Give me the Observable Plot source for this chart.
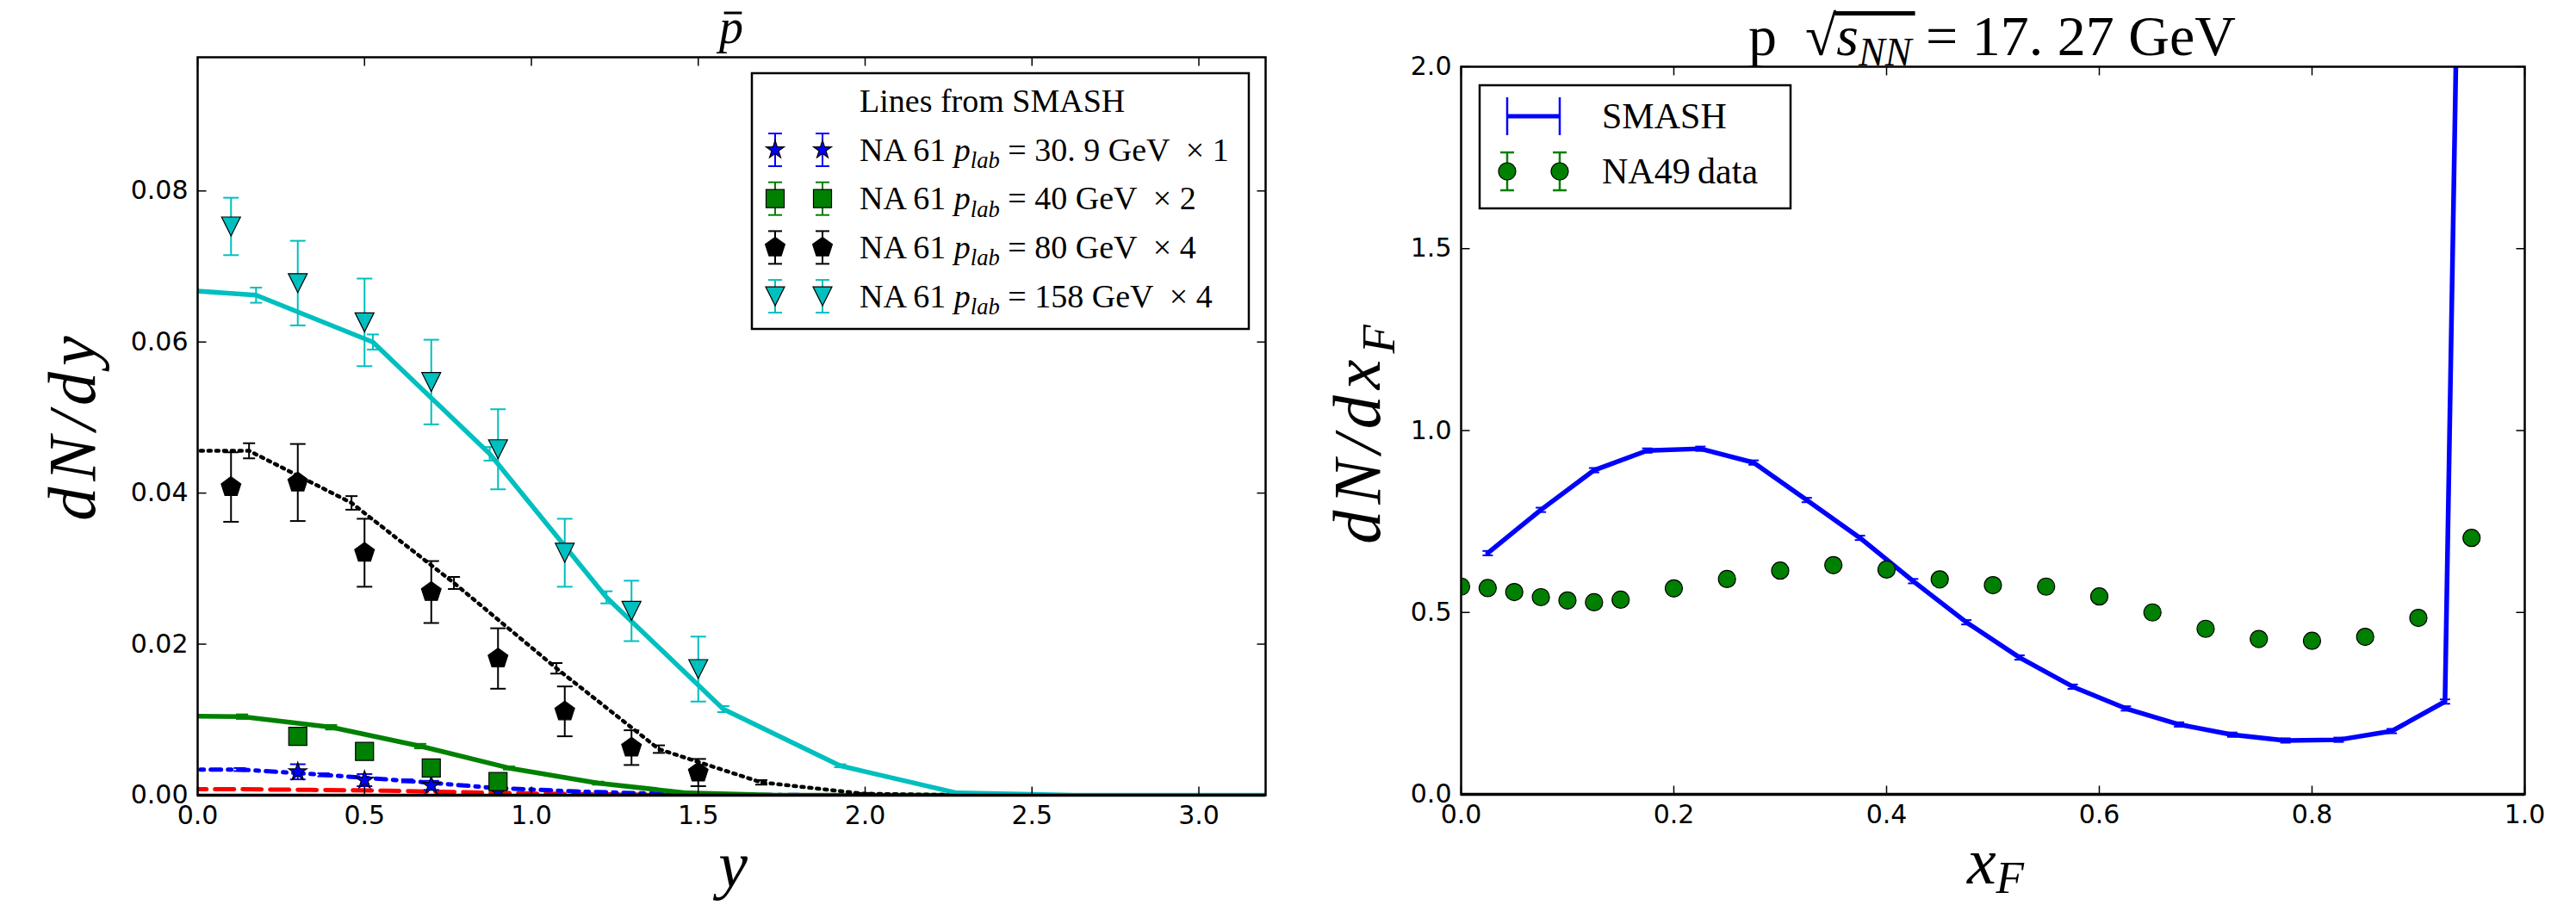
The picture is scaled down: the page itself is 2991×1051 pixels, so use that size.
<!DOCTYPE html>
<html>
<head>
<meta charset="utf-8">
<script src="https://cdn.jsdelivr.net/npm/d3@7"></script>
<script src="https://cdn.jsdelivr.net/npm/@observablehq/plot@0.6"></script>
<style>
  html, body { margin: 0; padding: 0; background: #fff; }
  #root { position: relative; width: 2991px; height: 1051px; overflow: hidden; background: #fff; }
  #root > svg { position: absolute; top: 0; }
</style>
</head>
<body>
<div id="root"></div>
<script>
// ---------------- data ----------------
const rapTicks = [0, 0.5, 1, 1.5, 2, 2.5, 3];
const dndyTicks = [0, 0.02, 0.04, 0.06, 0.08];
const xfTicks = [0, 0.2, 0.4, 0.6, 0.8, 1];
const dndxTicks = [0, 0.5, 1, 1.5, 2];

const beamLabels = ["30. 9", "40", "80", "158"];
const scaleFactors = [1, 2, 4, 4];

// NA61 data points (rapidity)
const na61Rap = [0.1, 0.3, 0.5, 0.7, 0.9, 1.1, 1.3, 1.5];
const na61_158 = [0.0753, 0.0678, 0.0626, 0.0547, 0.0458, 0.0321, 0.0244, 0.0167];
const na61_158Err = [0.0038, 0.0056, 0.0058, 0.0056, 0.0053, 0.0045, 0.0040, 0.0043];
const na61_80 = [0.0408, 0.0414, 0.0321, 0.0269, 0.0181, 0.0111, 0.0063, 0.0030];
const na61_80Err = [0.0046, 0.0051, 0.0045, 0.0041, 0.0040, 0.0033, 0.0023, 0.0018];
const na61RapLow = [0.3, 0.5, 0.7, 0.9];
const na61_40 = [0.0078, 0.0058, 0.0036, 0.0018];
const na61_40Err = [0.0006, 0.0006, 0.0005, 0.0005];
const na61_31 = [0.0031, 0.0020, 0.0013, 0.0005];
const na61_31Err = [0.0010, 0.0008, 0.0006, 0.0005];

// SMASH lines (rapidity)
const smashRap158 = [-0.175, 0.175, 0.525, 0.875, 1.225, 1.575, 1.925, 2.275, 2.625, 2.975, 3.325];
const smash158 = [0.0673, 0.0662, 0.0600, 0.0452, 0.0262, 0.0114, 0.0039, 0.0003, 0, 0, 0];
const smash158Err = [0.0010, 0.0010, 0.0010, 0.0009, 0.0008, 0.0004, 0.0002, 0, 0, 0, 0];
const smashRap80 = [-0.154, 0.154, 0.461, 0.768, 1.075, 1.382, 1.689, 1.996, 2.303, 2.610, 2.917, 3.224];
const smash80 = [0.0456, 0.0456, 0.0387, 0.0281, 0.0168, 0.0061, 0.0017, 0.0002, 0, 0, 0, 0];
const smash80Err = [0.0010, 0.0010, 0.0009, 0.0008, 0.0007, 0.0005, 0.0003, 0.0001, 0, 0, 0, 0];
const smashRap40 = [-0.133, 0.133, 0.4, 0.667, 0.933, 1.2, 1.467, 1.733, 2.0, 2.267];
const smash40 = [0.0105, 0.0104, 0.0090, 0.0065, 0.0036, 0.0016, 0.0003, 0, 0, 0];
const smash40Err = [0.0003, 0.0003, 0.0003, 0.0003, 0.0002, 0.0002, 0.0001, 0, 0, 0];
const smashRap31 = [-0.126, 0.126, 0.377, 0.628, 0.879, 1.130, 1.381, 1.632, 1.883];
const smash31 = [0.0034, 0.0034, 0.0027, 0.0019, 0.0010, 0.0005, 0.0002, 0.00005, 0];
const smash31Err = [0.0002, 0.0002, 0.0002, 0.0002, 0.0001, 0.0001, 0.00005, 0, 0];
const smashRap20 = [-0.113, 0.113, 0.339, 0.565, 0.791, 1.017, 1.243, 1.469, 1.695];
const smash20 = [0.0008, 0.0008, 0.0007, 0.0006, 0.0004, 0.0002, 0.0001, 0.00003, 0];

// right panel: x_F
const smashXF = [0.025, 0.075, 0.125, 0.175, 0.225, 0.275, 0.325, 0.375, 0.425, 0.475,
                 0.525, 0.575, 0.625, 0.675, 0.725, 0.775, 0.825, 0.875, 0.925, 0.975];
const smashDNdxF = [0.663, 0.782, 0.891, 0.945, 0.950, 0.912, 0.809, 0.705, 0.586, 0.473,
                    0.376, 0.296, 0.236, 0.192, 0.164, 0.148, 0.150, 0.174, 0.255, 8.8];
const smashDNdxFErr = smashXF.map(() => 0.006);
const na49XF = [0, 0.025, 0.05, 0.075, 0.1, 0.125, 0.15, 0.2, 0.25, 0.3, 0.35, 0.4,
                0.45, 0.5, 0.55, 0.6, 0.65, 0.7, 0.75, 0.8, 0.85, 0.9, 0.95];
const na49DNdxF = [0.571, 0.567, 0.556, 0.542, 0.533, 0.528, 0.535, 0.566, 0.592, 0.615, 0.630, 0.618,
                   0.591, 0.575, 0.571, 0.544, 0.500, 0.455, 0.427, 0.422, 0.433, 0.485, 0.705];

// ---------------- helpers ----------------
const C = {blue: "#0000FF", green: "#008000", black: "#000000", cyan: "#00BFBF", red: "#FF0000"};
const serif = "'Liberation Serif', 'Times New Roman', serif";
const rows = (xs, vs, es) => xs.map((x, i) => ({x, v: vs[i], e: es ? es[i] : 0}));

function sym(fn) { return {draw(ctx, size) { fn(ctx, Math.sqrt(size / Math.PI)); }}; }
const capH = sym((c, r) => { c.moveTo(-r, 0); c.lineTo(r, 0); });
const tickUp = sym((c, r) => { c.moveTo(0, 0); c.lineTo(0, -r); });
const tickDown = sym((c, r) => { c.moveTo(0, 0); c.lineTo(0, r); });
const tickRight = sym((c, r) => { c.moveTo(0, 0); c.lineTo(r, 0); });
const tickLeft = sym((c, r) => { c.moveTo(0, 0); c.lineTo(-r, 0); });
const pentagon = sym((c, r) => {
  for (let i = 0; i < 5; i++) {
    const a = -Math.PI / 2 + i * 2 * Math.PI / 5;
    const x = r * Math.cos(a), y = r * Math.sin(a);
    if (i) c.lineTo(x, y); else c.moveTo(x, y);
  }
  c.closePath();
});
const star = sym((c, r) => {
  for (let i = 0; i < 10; i++) {
    const a = -Math.PI / 2 + i * Math.PI / 5;
    const rr = i % 2 ? r * 0.382 : r;
    const x = rr * Math.cos(a), y = rr * Math.sin(a);
    if (i) c.lineTo(x, y); else c.moveTo(x, y);
  }
  c.closePath();
});
const square = sym((c, r) => { c.moveTo(-r, -r); c.lineTo(r, -r); c.lineTo(r, r); c.lineTo(-r, r); c.closePath(); });
const triDown = sym((c, r) => { c.moveTo(0, r); c.lineTo(-r, -r); c.lineTo(r, -r); c.closePath(); });

function errorBars(data, color, capR, sw) {
  const d = data.filter(p => p.e > 0);
  return [
    Plot.ruleX(d, {x: "x", y1: p => p.v - p.e, y2: p => p.v + p.e, stroke: color, strokeWidth: sw, clip: true}),
    Plot.dot(d, {x: "x", y: p => p.v - p.e, symbol: capH, r: capR, stroke: color, strokeWidth: sw, fill: "none", clip: true}),
    Plot.dot(d, {x: "x", y: p => p.v + p.e, symbol: capH, r: capR, stroke: color, strokeWidth: sw, fill: "none", clip: true})
  ];
}
function smashLine(data, color, sw, dash) {
  return [
    Plot.line(data, {x: "x", y: "v", stroke: color, strokeWidth: sw, strokeDasharray: dash, clip: true}),
    ...errorBars(data, color, 7, 2)
  ];
}
function markers(data, color, symbol, r) {
  return [
    ...errorBars(data, color, 9, 2),
    Plot.dot(data, {x: "x", y: "v", symbol, r, fill: color, stroke: "black", strokeWidth: 1.2, clip: true})
  ];
}
function inwardTicks(xt, yt, xd, yd) {
  const o = {r: 10, stroke: "black", strokeWidth: 1.5, fill: "none"};
  return [
    Plot.dot(xt, {x: d => d, y: () => yd[0], symbol: tickUp, ...o}),
    Plot.dot(xt, {x: d => d, y: () => yd[1], symbol: tickDown, ...o}),
    Plot.dot(yt, {x: () => xd[0], y: d => d, symbol: tickRight, ...o}),
    Plot.dot(yt, {x: () => xd[1], y: d => d, symbol: tickLeft, ...o})
  ];
}
const plotStyle = {fontFamily: "'DejaVu Sans', sans-serif", fontSize: "30px", color: "black", background: "transparent", overflow: "visible"};

// ---------------- left panel ----------------
const leftX = [0, 3.2], leftY = [0, 0.0977];
const left = Plot.plot({
  width: 1480, height: 1051,
  marginLeft: 229, marginRight: 11, marginTop: 66, marginBottom: 128,
  x: {domain: leftX},
  y: {domain: leftY},
  style: plotStyle,
  marks: [
    ...smashLine(rows(smashRap20, smash20), C.red, 5, "22,10"),
    ...smashLine(rows(smashRap31, smash31, smash31Err), C.blue, 5, "12,8,4,8"),
    ...smashLine(rows(smashRap40, smash40, smash40Err), C.green, 5.5),
    ...smashLine(rows(smashRap80, smash80, smash80Err), C.black, 4.5, "3,6"),
    ...smashLine(rows(smashRap158, smash158, smash158Err), C.cyan, 5.5),
    ...markers(rows(na61RapLow, na61_31, na61_31Err), C.blue, star, 11),
    ...markers(rows(na61RapLow, na61_40, na61_40Err), C.green, square, 10.5),
    ...markers(rows(na61Rap, na61_80, na61_80Err), C.black, pentagon, 12),
    ...markers(rows(na61Rap, na61_158, na61_158Err), C.cyan, triDown, 11),
    Plot.ruleY([0], {stroke: "black", strokeWidth: 3.5}),
    Plot.frame({stroke: "black", strokeWidth: 2.5}),
    ...inwardTicks(rapTicks, dndyTicks, leftX, leftY),
    Plot.axisX({ticks: rapTicks, tickSize: 0, tickPadding: 12, tickFormat: d3.format(".1f"), label: null}),
    Plot.axisY({ticks: dndyTicks, tickSize: 0, tickPadding: 11, tickFormat: d3.format(".2f"), label: null})
  ]
});
left.style.left = "0px";

// ---------------- right panel ----------------
const rightX = [0, 1], rightY = [0, 2];
const right = Plot.plot({
  width: 1511, height: 1051,
  marginLeft: 216, marginRight: 60, marginTop: 77, marginBottom: 129,
  x: {domain: rightX},
  y: {domain: rightY},
  style: plotStyle,
  marks: [
    Plot.line(rows(smashXF, smashDNdxF), {x: "x", y: "v", stroke: C.blue, strokeWidth: 5.5, clip: true}),
    ...errorBars(rows(smashXF, smashDNdxF, smashDNdxFErr), C.blue, 6, 2),
    Plot.dot(rows(na49XF, na49DNdxF), {x: "x", y: "v", r: 10, fill: C.green, stroke: "black", strokeWidth: 1.2, clip: true}),
    Plot.ruleY([0], {stroke: "black", strokeWidth: 3.5}),
    Plot.frame({stroke: "black", strokeWidth: 2.5}),
    ...inwardTicks(xfTicks, dndxTicks, rightX, rightY),
    Plot.axisX({ticks: xfTicks, tickSize: 0, tickPadding: 12, tickFormat: d3.format(".1f"), label: null}),
    Plot.axisY({ticks: dndxTicks, tickSize: 0, tickPadding: 11, tickFormat: d3.format(".1f"), label: null})
  ]
});
right.style.left = "1480px";

const root = document.getElementById("root");
root.appendChild(left);
root.appendChild(right);

// ---------------- overlay: titles, labels, legends ----------------
const ov = d3.select(root).append("svg")
  .attr("width", 2991).attr("height", 1051)
  .style("left", "0px").style("top", "0px").style("pointer-events", "none");

function richText(parent, x, y, parts, fs, opts = {}) {
  const t = parent.append("text")
    .attr("x", x).attr("y", y)
    .attr("font-family", serif).attr("font-size", fs)
    .attr("text-anchor", opts.anchor || "start")
    .attr("fill", "black")
    .style("white-space", "pre");
  if (opts.transform) t.attr("transform", opts.transform);
  if (opts.spacing) t.attr("letter-spacing", opts.spacing);
  const subShift = opts.subShift != null ? opts.subShift : fs * 0.22;
  let shifted = 0;
  parts.forEach(p => {
    const ts = t.append("tspan").text(p.t);
    if (p.i) ts.attr("font-style", "italic");
    if (p.sub) {
      ts.attr("font-size", fs * 0.7);
      ts.attr("dy", subShift - shifted); shifted = subShift;
    } else if (shifted) {
      ts.attr("dy", -shifted); shifted = 0;
    }
  });
  return t;
}

// left title: p-bar
const pbar = richText(ov, 849, 50, [{t: "p", i: true}], 56, {anchor: "middle"});
{
  const bb = pbar.node().getBBox();
  ov.append("line")
    .attr("x1", bb.x + bb.width * 0.3).attr("x2", bb.x + bb.width * 0.95)
    .attr("y1", 15).attr("y2", 15).attr("stroke", "black").attr("stroke-width", 3);
}

// right title
const rtitle = richText(ov, 2313, 64, [
  {t: "p  \u221A"}, {t: "s", i: true}, {t: "NN", i: true, sub: true}, {t: " = 17. 27 GeV"}
], 66, {anchor: "middle", subShift: 12});
{
  const n = rtitle.node();
  const x0 = n.getEndPositionOfChar(3).x;
  const x1 = n.getEndPositionOfChar(6).x + 4;
  ov.append("rect").attr("x", x0 - 2).attr("y", 13).attr("width", x1 - x0 + 2).attr("height", 5).attr("fill", "black");
}

// axis labels
richText(ov, 0, 0, [{t: "dN/dy", i: true}], 78, {anchor: "middle", transform: "translate(110,494) rotate(-90)", spacing: 7});
richText(ov, 0, 0, [{t: "dN/dx", i: true}, {t: "F", i: true, sub: true}], 78, {anchor: "middle", transform: "translate(1602,501) rotate(-90)", spacing: 7});
richText(ov, 851, 1030, [{t: "y", i: true}], 76, {anchor: "middle"});
richText(ov, 2317, 1026, [{t: "x", i: true}, {t: "F", i: true, sub: true}], 76, {anchor: "middle", subShift: 11});

// left legend
const legendSymbols = [star, square, pentagon, triDown];
const legendColors = [C.blue, C.green, C.black, C.cyan];
const legendR = [11, 10.5, 12, 11];
ov.append("rect").attr("x", 873).attr("y", 85).attr("width", 577).attr("height", 297)
  .attr("fill", "white").attr("stroke", "black").attr("stroke-width", 2.5);
richText(ov, 998, 130, [{t: "Lines from SMASH"}], 38);
beamLabels.forEach((lab, i) => {
  const cy = 174 + i * 56.7;
  const col = legendColors[i];
  [900, 955].forEach(mx => {
    ov.append("line").attr("x1", mx).attr("x2", mx).attr("y1", cy - 19).attr("y2", cy + 19).attr("stroke", col).attr("stroke-width", 2);
    [cy - 19, cy + 19].forEach(yy => ov.append("line").attr("x1", mx - 8).attr("x2", mx + 8).attr("y1", yy).attr("y2", yy).attr("stroke", col).attr("stroke-width", 2));
    ov.append("path").attr("d", d3.symbol(legendSymbols[i], Math.PI * legendR[i] ** 2)())
      .attr("transform", `translate(${mx},${cy})`).attr("fill", col).attr("stroke", "black").attr("stroke-width", 1.2);
  });
  richText(ov, 998, cy + 12.5, [
    {t: "NA 61 "}, {t: "p", i: true}, {t: "lab", i: true, sub: true},
    {t: ` = ${lab} GeV  \u00D7 ${scaleFactors[i]}`}
  ], 38);
});

// right legend
ov.append("rect").attr("x", 1718).attr("y", 99).attr("width", 361).attr("height", 143)
  .attr("fill", "white").attr("stroke", "black").attr("stroke-width", 2.5);
ov.append("line").attr("x1", 1750).attr("x2", 1811).attr("y1", 135).attr("y2", 135).attr("stroke", C.blue).attr("stroke-width", 5);
[1750, 1811].forEach(mx => {
  ov.append("line").attr("x1", mx).attr("x2", mx).attr("y1", 113).attr("y2", 157).attr("stroke", C.blue).attr("stroke-width", 2.5);
  ov.append("line").attr("x1", mx).attr("x2", mx).attr("y1", 177).attr("y2", 221).attr("stroke", C.green).attr("stroke-width", 2.5);
  [177, 221].forEach(yy => ov.append("line").attr("x1", mx - 8).attr("x2", mx + 8).attr("y1", yy).attr("y2", yy).attr("stroke", C.green).attr("stroke-width", 2.5));
  ov.append("circle").attr("cx", mx).attr("cy", 199).attr("r", 10).attr("fill", C.green).attr("stroke", "black").attr("stroke-width", 1.2);
});
richText(ov, 1860, 149, [{t: "SMASH"}], 42);
richText(ov, 1860, 213, [{t: "NA49\u2009data"}], 42);
</script>
</body>
</html>
